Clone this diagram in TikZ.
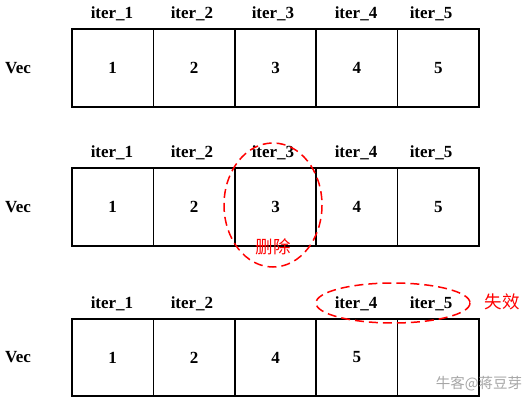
\documentclass[tikz,border=0pt]{standalone}
\usepackage{fontspec}
\setmainfont{Liberation Serif}
\newfontfamily\cjk{Noto Sans CJK SC}
\usepackage{tikz}
\usepackage{xcolor}

\tikzset{
    cell/.style={draw, line width=1.5pt, minimum width=81.4pt, minimum height=78pt,
        inner sep=0pt, font=\fontsize{17}{20}\selectfont\bfseries},
    itername/.style={font=\fontsize{17}{20}\selectfont\bfseries},
    mark red/.style={red, dashed, line width=1.5pt, dash pattern=on 9pt off 5pt},
    note/.style={red, font=\cjk\fontsize{17.5}{20}\selectfont}
}

\begin{document}
\begin{tikzpicture}[x=1pt, y=-1pt]

    \useasboundingbox (0,0) rectangle (532,401);

    % Row 1: the vector before erase
    \node[itername] (v1) at (18, 68) {Vec};
    \node[cell] (a1) at (112.7, 68) {1};
    \node[cell] (a2) at (194.1, 68) {2};
    \node[cell] (a3) at (275.5, 68) {3};
    \node[cell] (a4) at (356.9, 68) {4};
    \node[cell] (a5) at (438.3, 68) {5};
    \node[itername] (p1) at (112, 14) {iter\_1};
    \node[itername] (p2) at (192, 14) {iter\_2};
    \node[itername] (p3) at (273, 14) {iter\_3};
    \node[itername] (p4) at (356, 14) {iter\_4};
    \node[itername] (p5) at (431, 14) {iter\_5};

    % Row 2: erase iter_3
    \node[itername] (v2) at (18, 207) {Vec};
    \node[cell] (b1) at (112.7, 207) {1};
    \node[cell] (b2) at (194.1, 207) {2};
    \node[cell] (b3) at (275.5, 207) {3};
    \node[cell] (b4) at (356.9, 207) {4};
    \node[cell] (b5) at (438.3, 207) {5};
    \node[itername] (q1) at (112, 153) {iter\_1};
    \node[itername] (q2) at (192, 153) {iter\_2};
    \node[itername] (q3) at (273, 153) {iter\_3};
    \node[itername] (q4) at (356, 153) {iter\_4};
    \node[itername] (q5) at (431, 153) {iter\_5};
    \draw[mark red] (273, 205) ellipse (49 and 62);
    \node[note] (del) at (273, 247) {删除};

    % Row 3: after erase, iter_4 and iter_5 are invalid
    \node[itername] (v3) at (18, 357.5) {Vec};
    \node[cell, minimum height=77pt] (c1) at (112.7, 357.5) {1};
    \node[cell, minimum height=77pt] (c2) at (194.1, 357.5) {2};
    \node[cell, minimum height=77pt] (c3) at (275.5, 357.5) {4};
    \node[cell, minimum height=77pt] (c4) at (356.9, 357.5) {5};
    \node[cell, minimum height=77pt] (c5) at (438.3, 357.5) {};
    \node[itername] (r1) at (112, 304) {iter\_1};
    \node[itername] (r2) at (192, 304) {iter\_2};
    \node[itername] (r4) at (356, 304) {iter\_4};
    \node[itername] (r5) at (431, 304) {iter\_5};
    \draw[mark red] (393, 303) ellipse (77 and 20);
    \node[note] (bad) at (502, 302) {失效};

    % watermark
    \node[gray!70, font=\cjk\fontsize{14.5}{16}\selectfont] (wm) at (479, 384) {牛客@蒋豆芽};

\end{tikzpicture}
\end{document}
